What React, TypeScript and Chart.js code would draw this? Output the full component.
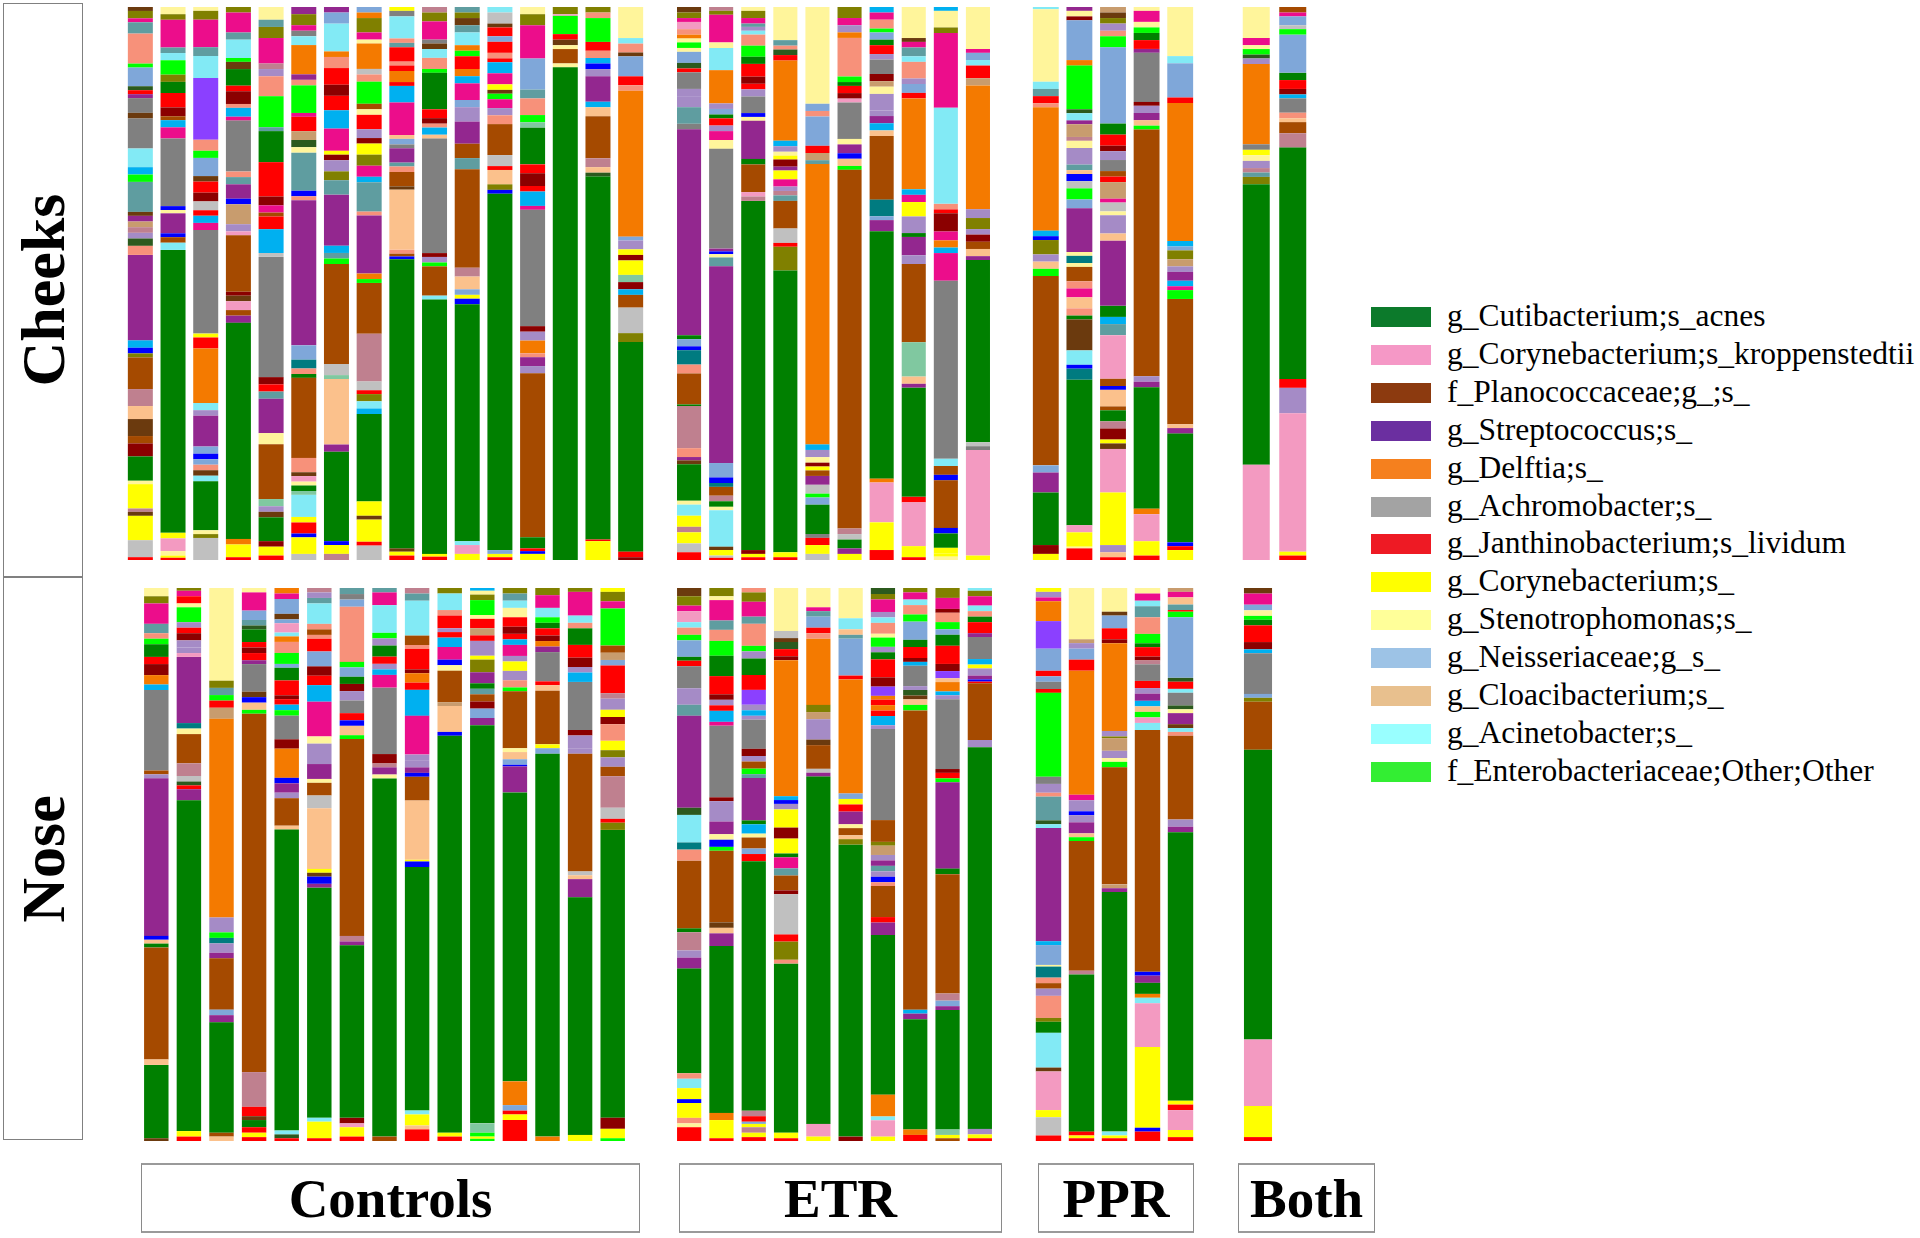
import React, { useEffect, useRef } from "react";
import { Chart, registerables } from "chart.js";

Chart.register(...registerables);

// Segment colour codes (bars)
const COLORS: Record<string, string> = {
  g: "#008000", p: "#F39AC1", b: "#A54A00", s: "#93278F", o: "#F47A00",
  a: "#808080", r: "#FF0000", y: "#FFFF00", l: "#FFF59B", n: "#7FA7D9",
  c: "#FBC18C", k: "#82EAF5", e: "#00FF00", m: "#EC0D8B", d: "#8B0000",
  t: "#5F9DA0", v: "#808000", f: "#F7917A", q: "#007B80", x: "#00B0F0",
  w: "#A58BC6", u: "#BF808F", i: "#C0C0C0", h: "#6B3A0E", z: "#0000FF",
  j: "#C89C6E", M: "#80C8A0", D: "#2C5A1E", V: "#8B40FF",
};

// Each bar: segments from bottom to top, "<code><relative abundance %>"
const cheeksControls: string[][] = [
  ["r0.5","i3","y4.3","h0.7","u0.6","y4.3","l0.6","g4.3","d2.3","b1.3","h3","c2.3","u3","b5.6","v0.7","z1","x1.3","s15.1","f1.6","D1.3","w1","u1","j1","s1","h0.7","t5.3","e1.3","x1.3","k3.3","a5.3","h1","a2.6","s0.7","r0.7","D0.7","n3.3","e0.7","f5.3","t2","m0.7","v1.3","h0.7"],
  ["r0.4","y0.4","l0.8","p2.3","y1","g51","k1.3","b1","z0.7","s3.6","l0.6","z0.7","a12.2","m2","x1.3","b0.7","d1.6","r2.6","g2","v1.3","e2.6","k1.3","t1","m5","v1","l1.3"],
  ["i4","v0.7","l0.7","g8.9","k1","h1","f1","n1","z1","n1.3","s5.6","w1","k1.3","o9.9","r2","y0.7","a18.8","m1.3","x1.3","r1","i1.6","d1.6","r2","h1","n3.3","e1.3","f2","V11.2","k4","t1.6","m5","v1.6","l0.7"],
  ["r0.5","y2.3","o1","g39","s1.3","b1","p1.6","h1","d0.7","b10.2","p0.7","w1.3","j3.6","z1","s2.6","t1.3","f1","a9.2","m0.7","x1.6","f0.7","d2.3","r1","g3","h1.3","e0.7","k3.3","t1.3","m3.6","v1"],
  ["r0.8","y1.6","d1","g4.3","h1","w1","M1.3","b9.9","l2","s6.2","t1.3","r1.3","d1.3","a21.7","i0.7","x4.3","r2.3","b0.7","m1.3","d1.6","r6.2","g5.6","t0.7","e5.6","f3.6","w1.3","u1","m4.6","v2","t1.3","l2.3"],
  ["i1.1","y3","z0.7","r2","y1","k4","M0.7","g1","l0.7","p1","h0.7","f2.6","b14.5","g0.7","f1","q1.6","n2.6","s26.3","f0.7","z1","t6.9","l1","D1.3","j1.6","r2.6","m0.7","e5","f1","s1","o5.3","k1.6","a1","m1","v2","s1.3"],
  ["u1.1","y1.6","z0.7","g16.1","s1.3","c11.8","M0.7","i2","b18","e1","t1","x1.3","s9.2","t2.6","v1.6","w2","d1","y0.7","m4","x3.3","r2.6","d2","r3","f2","o1","k5","n2","s1"],
  ["i2.6","r0.7","y4","h0.7","y2.6","g15.8","x1","k1.3","v1.3","r0.7","i1.6","u8.6","b9.2","e0.7","o1","s10.5","f0.7","t5.3","x1","m2","v2","y2","d1","w1.6","r2.6","l1","b1","e4","f1.3","i1","o4.6","l0.7","m1.3","v2.6","o1","n1"],
  ["r0.8","y0.7","h0.6","g52.4","z0.5","b0.5","f0.7","c10.9","h0.6","b2.6","f1","t0.7","s2.6","a0.7","n1","c0.7","m5.9","x3","r0.7","o2","r1","f0.7","r2.6","t0.8","f0.8","k4","a1","y0.7"],
  ["r0.6","y0.5","g46","k0.7","b5.3","e0.7","w1","d0.7","a20.7","c0.7","x1.3","f0.7","d1","r1.6","g6.6","e0.7","f2","k1.6","h1","a0.7","m3.3","v1.6","u1"],
  ["y1.1","p1.6","k0.7","g42.8","z1","y0.7","n1","c2.3","u1.6","b17.8","t2","b2.6","s4","w2.6","n1.3","m3","x1.3","o1.3","r2.3","e1","o1","k2.3","t1.3","h1.3","v1","t1"],
  ["r0.5","y0.6","n0.7","g64.5","z0.7","v1","c2.6","r0.7","i2","b5.6","f1.6","w1.3","m1.6","e1","h0.7","y1","m2","x2","r0.7","f1","r2","n1","r1.6","h0.7","i2","k1"],
  ["y1.1","z0.5","r0.5","g2","b29.6","w1.3","s1.6","f0.7","o2.3","w1.6","d1","a21","m0.7","x2.6","r1","d2.3","r1.6","g6.6","M1","e1.3","f3","t1.6","n5.6","m6","v2","l1.3"],
  ["g89","l0.7","b2.6","l0.7","h1","r1","e3.3","p0.3","v1.3"],
  ["y3.4","r0.3","g65.5","D0.7","c1","u1.6","b7.6","c1.6","x1","s4.6","w1.3","z1","x1","f1.3","r1.6","e4.3","f1","v1"],
  ["d0.5","r1","g37.8","v1.6","i4.6","b2.3","x1","d1.3","M1.3","y2.6","d1","y1","w1.6","n0.7","o26.3","f1","r1.6","n3.6","h0.7","f1.6","k1","l5.6"],
];

const cheeksETR: string[][] = [
  ["r1.4","i1.6","y2","u1","y2","k2","l0.7","g6.6","h0.7","s0.6","f1.6","u7.6","g0.3","b5.6","f1.6","q2.6","z0.7","n1.3","g0.7","s37.2","a1","t3","w2","w1.3","a3","r0.7","D1","n2","l0.7","e1","l0.7","o0.7","f1","p1.3","m0.7","v1","h1"],
  ["r0.4","i0.4","y1","h0.6","k6.6","l0.6","g1","u1","b1.6","q0.7","z1","n2.6","s35.5","t1.6","l0.6","z0.5","s0.5","a18","l1.6","m1.6","w1","r1.3","g0.7","n1","w1","o6","k4","l1","m5","v0.7","u0.7"],
  ["r0.5","y0.6","d0.7","g63.2","u0.8","p0.8","b5","g1","s6.9","l0.7","z0.7","a3","w1.3","r1","d1.3","r2.3","g1.3","e2","f2","k0.7","w0.7","t0.6","m1","v1.3","l0.7"],
  ["r0.5","y0.9","g51","v4.3","r0.7","i2.6","b5","t1","u0.8","w0.8","m1.3","y1.6","s0.7","d1.3","y0.7","l0.7","w1","x1","o14.5","r1","D1","f0.7","t1","l6"],
  ["i1.1","y1.6","r1.3","a0.7","g5.3","n1.3","e0.7","i1.6","s1.6","b1","y0.7","d0.7","l1","w1.3","x1","o50.7","t0.7","j1.3","r1.3","n5.3","f1","n1.3","l17.5"],
  ["y1.1","s1","g1.6","i1","u1","b65","e0.7","c1.3","z1","s1.6","l1","a6.6","p0.7","d1","r1.3","g0.7","e1","f7","o1","w1.3","m1.3","v2"],
  ["r1.8","y5","p7.2","o0.7","g44.7","s2","n0.7","q3","b11.5","c1","x1.3","s1.3","w1","w3","l1.3","j1","d1.3","a2.6","w1","r1.6","g1","n1.3","e0.7","f1.6","m1.3","x1"],
  ["r0.5","y2","p7.9","r1","g19.7","s0.7","c1.3","M6.2","b14.1","w1.6","s3.3","g0.7","w3","y2.6","m1.3","x1","o16.4","r1","n1.6","w1","f3","k1","t1.6","m1","h0.7","l5.6"],
  ["l0.6","y0.6","y1","g2.6","z1","b8.6","z1","b1.6","k1.3","a32.2","m5","x1","o1.3","m1.6","d3.3","r0.7","f1","k17.4","m13.5","v1","l3","x0.7"],
  ["y0.8","p19.1","a0.7","i0.7","g33","s0.7","c1.3","b1.3","d1.3","w1","v2","w1.6","o22.4","j1.3","r2.3","k1","n1.3","m0.7","l7.6"],
];

const cheeksPPR: string[][] = [
  ["y1.1","d1.6","g9.5","s3.6","n1.3","b34.2","e1.3","c1.3","w1.3","v2.6","z0.7","x1","o22.3","f0.7","r1.3","t1.3","k1.3","l13.1","k0.4"],
  ["r2.1","l0.3","y2.6","p1.3","g26.3","q2","z0.7","k2.6","h5.6","g0.7","f1.3","c2","m1.6","f1.3","b2.6","l0.7","q1.3","l0.7","s7.9","n1.6","e2","i1.3","z1.3","c0.7","t1","w3","l1.3","u0.7","j2.3","s0.7","k1.3","D0.7","e7.9","o1","n7.2","d0.7","l1","s0.7"],
  ["r0.5","c0.9","w1.3","y9.5","p7.9","h1","y0.7","d2","u1.3","g2","b0.7","c3","z0.7","b1.3","p7.9","t2","x1.3","g2","s11.8","c1.3","w3.3","l0.7","i1.6","m0.7","j3","r1","b1","a2","w1.6","d1","r2","g2","n13.8","e2","f1","w1.3","v1","h1","j1"],
  ["r0.8","y2.6","p4.9","o1","g22","s1","w1","b44.7","e0.7","c1","s1.3","w1.3","d0.7","a8.9","s0.7","r1.6","g1.3","e1","l1","m2","l0.7"],
  ["y1.8","r0.7","z0.7","g19.7","s1","c0.7","b22.7","e1.6","m0.7","x1","s1.6","w1","j1.3","v1.6","n0.7","x1","o25","r1","n6.2","k1.3","l8.9"],
];

const cheeksBoth: string[][] = [
  ["p17.2","g50.7","v1.3","t0.8","u0.8","w1.3","l1","y1","a1","o14.5","w1","D0.7","e1","l0.7","m1.3","l5.6"],
  ["r0.8","y0.7","p25","w4.6","r1.6","g41.8","u2.6","b2","c0.7","f1","a2.6","x0.7","d1","r1.6","g1.3","n6.9","e1","i0.7","n1.6","m0.7","b1"],
];

const noseControls: string[][] = [
  ["h0.5","g13.3","c1","b20.3","g0.7","c0.7","z0.7","s28.6","w0.7","b0.7","a14.6","x1","o1.7","d2","r1.3","g2.3","e1","f1","t1.7","m3.7","v1.3","l1.5"],
  ["r0.8","y1","g60","s2","r0.7","D0.7","i1","u2.3","b5.3","l1","q1","s12","p0.7","w1","w1.3","d1.3","r1","w1","e2.7","l0.7","r1.3","m1","v0.5"],
  ["c0.8","b0.7","g20","s1.3","n1","b9.3","s1","w1.7","q1","e1","w1.7","w1","o36","j2","r1.3","e1","t1.3","v1.3","l16.8"],
  ["r0.7","y0.8","r1","g1.3","h0.7","r1.7","u6.3","b65","e0.7","c1.3","z1","h1","a5","s0.7","r1.3","d1","r1","g2.3","D0.7","t1","n1.7","m3.3","l0.8"],
  ["r0.5","D0.7","k0.7","g54.7","c0.7","b5","w1","s1.7","z1","o5.3","d1.7","a4.3","e1","x1","r1","d0.7","r2.7","g2.3","n0.7","e2","f2","o1","k0.7","p1.7","n0.7","h1","n2.7","m1","o1"],
  ["r0.5","y3","k0.7","g41.7","s0.7","z1.3","h0.7","y0.7","c11","i2.3","b2.3","l0.7","s2.7","w3.7","l1.3","m6.3","x3","r1.7","d1.7","n2.7","r2.3","f0.7","b1","f1","k3.7","t1","w1","u0.8"],
  ["r0.8","y1.7","p0.7","d1","g31.3","s0.7","u1","b35.7","e0.7","c1.7","z1","r1.3","a2.3","w1.7","d1.3","g1.3","n1.7","e1","f10","n1.3","a1","t1.1"],
  ["b0.8","g64.7","l0.7","s1.3","u0.7","d1.7","a12","m2.3","x1","w1","r1.3","g2","w1.3","e1","k5","m2.3","t0.8"],
  ["r2.1","c0.7","y2","k0.7","g44","z1","y0.3","c10.7","b4.3","z0.7","s1","w1.3","w1","m7","x4.7","r1.3","o1.7","d0.7","r3.7","f0.7","b1.7","k6.3","t1.3","u1"],
  ["r0.8","y0.7","g72","z0.7","c4.7","j0.7","b5.7","l1","z1","m2.3","x1.7","r1","w0.7","r2.3","f1","k3","v1"],
  ["e0.4","y0.4","e0.7","M1.7","g72.3","s1.3","n1.7","d1.3","b1.3","t1","g1","s2","v2.3","y0.7","w2.7","r1","j1.3","r1.7","l0.7","e2.7","v1","l0.7","x0.5"],
  ["r3.8","y1","r0.7","n1","o4.3","g52.3","s4.7","z0.3","n1","c1.3","l0.7","b10.3","e0.7","f1.3","w1.7","y1.7","w1","m2","x1","r1","d1.3","r1.7","l1.7","k1.3","t1.3","v1"],
  ["o0.8","g69.3","n1","y0.7","b9.7","c1","r0.7","a5.3","s1","o1","d1","r1.3","g1","e1","k1.7","m2.3","v1.3"],
  ["y1.1","g43","s3.3","c0.7","i0.7","b21.3","w1","w2.3","d1","a8.7","x1.7","w1","d1.7","r2.3","g3","f1","k1.3","m4.3","v0.7"],
  ["e0.5","y1.7","d2","g52","v1.3","r0.7","i2","u5.7","b1.7","w1.7","v1.3","y1.7","f3","d1.3","y1.3","w2","u1","r5","n1","j1.3","b1.3","e6.7","m1.3","v1.7","y0.7"],
];

const noseETR: string[][] = [
  ["r2.5","l0.7","f1","y2.7","z0.7","y2","k1.7","f1","g19","s2","w1.3","u3.3","g0.7","b12.3","f2","q1.3","k5","D1.3","s16.7","t2","w3","a4","r1","g0.7","n3","e1","f1.3","k1","p2","m1","v1.7","h1.5"],
  ["r0.5","y3.3","o1.3","g30.3","s2.3","c1","h1","b13","e0.7","z1.3","l1","s2.3","w3","w0.7","d0.7","a13","m0.7","x2","r1","w1","d1","r3.3","g3.7","e2.7","f2","t1.7","m3.7","l0.7","v1.5"],
  ["r0.7","y0.8","u1","y0.6","n0.4","r1","u1","g45.3","r1.3","n1","b2","l0.7","x1.7","g0.7","s7.7","t0.7","e1","b1.3","w1","d1.3","a5.3","w0.7","x1","w1","V2.7","r2.7","g3","w1.3","e1","f4","t1.3","m2.7","v1.7","f0.8"],
  ["r0.5","y1","g30.7","f0.7","v3.3","r1.3","i7.3","d0.7","b2.7","t1.3","m2","g0.7","y2.7","d2","y3.3","w1","z0.7","x0.7","o24.7","d0.7","r1.3","D1.3","h0.7","i1.3","l7.8"],
  ["y0.8","p2.3","g63","s0.7","i0.7","b4.3","h1","w3.7","j1.3","v1.3","o12","f1","r1","n2","t1","m0.7","l3.5"],
  ["d0.8","g53","v1","c0.7","b1.3","l0.7","s2.3","r1.3","y1","n1","o20.7","r0.7","n6.7","t0.7","c1","k2","l5.5"],
  ["y0.8","p3","k0.7","o4","g29.3","s2.3","r1","b5.7","f0.7","z1","w1","t1","s1","w1","j1.7","v0.7","b4","a16.7","w0.7","x1.7","r1","o1","r1","o0.7","V1.7","d1.7","r3.3","g1.3","w1","e1.7","l0.7","f2","k1","w1","m2.3","v1","D1.1"],
  ["r1.1","o1","g20","s1","x0.7","b54.3","e1","c1","h0.7","D1","w0.7","a3.7","x0.7","d0.7","r2","g1.3","n3.3","e1.3","f1.7","k1","m1.3","v0.8"],
  ["b0.5","y0.6","M1","g21.7","s0.7","n1","u1.3","b21.7","g1","s15.7","e0.7","r1","d0.7","a12.7","w0.7","x0.7","o1.7","c0.7","V1.3","d1.3","r3.3","g2","n1","e1.3","f1.7","d0.7","m2","v1.8"],
  ["r0.5","y0.7","w1","g69.3","w1.3","b10.3","r0.3","z0.4","s0.7","w1.3","y0.7","x1","a4","s0.7","r2","g1","f1","k1","m1.7","v1","k0.5"],
];

const nosePPR: string[][] = [
  ["r1","i3.3","y1.3","p7","h0.7","k6.3","g2","v0.7","f4","w1.3","b1","f1","q2","l0.3","n3.6","x0.7","s20.5","k0.7","D0.7","t4.3","f0.7","w1.6","a1.3","e15.2","r0.7","a1.3","n1","r1","n4","V5","o3.6","m0.7","w1","y0.7"],
  ["r0.5","y0.5","r0.7","g28.5","u0.7","b23.5","e0.7","c0.7","s2","w1.3","z0.7","w2","m1","o22.5","r2","n2","w1","j0.7","l9.3"],
  ["r0.5","y0.5","k0.7","g43.4","s0.7","j0.7","b21.2","e1","l0.7","w1.3","j2.3","v0.3","w1","o15.9","d0.7","r2","n2.3","h0.7","l4.3"],
  ["r1.7","z0.7","y14.6","p7.9","k1","o0.7","g2","s1.3","z0.7","b43.7","k1.3","p1","e1","c1","x1","s1.3","w1","r1.3","a3","u0.7","d0.7","r1.7","g0.7","e1.7","f3","t2","k1","m1.3","l1"],
  ["r0.7","y1.3","p3.6","r1","y0.7","g48.7","s1","w1.3","b15.2","f0.7","k0.7","h0.7","s2","l0.7","D0.7","a2.3","k0.7","r1.3","D0.7","n11","e1","r0.3","t1","c1.3","m1","j0.7"],
];

const noseBoth: string[][] = [
  ["r0.7","y5.6","p11.9","g52","b8.6","v0.7","n0.7","a7.3","x0.7","d1.3","r3","g1","e0.7","l1","n1","m2","h1"],
];

const legendLabels = [
  "g_Cutibacterium;s_acnes",
  "g_Corynebacterium;s_kroppenstedtii",
  "f_Planococcaceae;g_;s_",
  "g_Streptococcus;s_",
  "g_Delftia;s_",
  "g_Achromobacter;s_",
  "g_Janthinobacterium;s_lividum",
  "g_Corynebacterium;s_",
  "g_Stenotrophomonas;s_",
  "g_Neisseriaceae;g_s_",
  "g_Cloacibacterium;s_",
  "g_Acinetobacter;s_",
  "f_Enterobacteriaceae;Other;Other",
];
const legendColors = [
  "#0C7A2B", "#F598C6", "#8C3A0F", "#6B2FA0", "#F5801E", "#A3A3A3", "#EE1A24",
  "#FFFF00", "#FFFF99", "#9DC3E6", "#E8C08E", "#99FFFF", "#33EE33",
];

const groupLabels = ["Controls", "ETR", "PPR", "Both"];
const siteLabels = ["Cheeks", "Nose"];

type PanelProps = {
  bars: string[][];
  left: number;
  top: number;
  width: number;
  height: number;
  barPct: number;
};

function parseBar(bar: string[]) {
  const segs = bar.map((s) => ({ c: s[0], v: parseFloat(s.slice(1)) }));
  const tot = segs.reduce((a, b) => a + b.v, 0);
  return segs.map((s) => ({ c: s.c, v: (s.v / tot) * 100 }));
}

function Panel({ bars, left, top, width, height, barPct }: PanelProps) {
  const ref = useRef<HTMLCanvasElement | null>(null);
  useEffect(() => {
    if (!ref.current) return;
    const segs = bars.map(parseBar);
    const maxLen = Math.max(...segs.map((s) => s.length));
    const datasets: any[] = [];
    for (let j = 0; j < maxLen; j++) {
      datasets.push({
        data: segs.map((s) => (s[j] ? s[j].v : 0)),
        backgroundColor: segs.map((s) => (s[j] ? COLORS[s[j].c] || "#999" : "rgba(0,0,0,0)")),
        borderWidth: 0,
        barPercentage: barPct,
        categoryPercentage: 1,
      });
    }
    const chart = new Chart(ref.current, {
      type: "bar",
      data: { labels: bars.map((_, i) => String(i + 1)), datasets },
      options: {
        animation: false,
        responsive: false,
        maintainAspectRatio: false,
        layout: { padding: 0 },
        plugins: { legend: { display: false }, tooltip: { enabled: false } },
        scales: {
          x: { stacked: true, display: false, offset: true },
          y: { stacked: true, display: false, min: 0, max: 100 },
        },
      },
    });
    return () => chart.destroy();
  }, []);
  return (
    <canvas
      ref={ref}
      width={width}
      height={height}
      style={{ position: "absolute", left, top, width, height }}
    />
  );
}

const serif = "'Liberation Serif', 'Times New Roman', serif";

export default function App() {
  const rowTop = [7, 588];
  const h = 553;
  const boxes = [
    { l: 141, w: 499 },
    { l: 679, w: 323 },
    { l: 1038, w: 156 },
    { l: 1238, w: 137 },
  ];
  return (
    <div
      style={{
        position: "absolute",
        left: 0,
        top: 0,
        width: 1920,
        height: 1238,
        background: "#fff",
        overflow: "hidden",
        fontFamily: serif,
      }}
    >
      <Panel bars={cheeksControls} left={124} top={rowTop[0]} width={523} height={h} barPct={0.765} />
      <Panel bars={cheeksETR} left={673} top={rowTop[0]} width={321} height={h} barPct={0.75} />
      <Panel bars={cheeksPPR} left={1029} top={rowTop[0]} width={168} height={h} barPct={0.77} />
      <Panel bars={cheeksBoth} left={1238} top={rowTop[0]} width={73} height={h} barPct={0.74} />
      <Panel bars={noseControls} left={140} top={rowTop[1]} width={489} height={h} barPct={0.75} />
      <Panel bars={noseETR} left={673} top={rowTop[1]} width={323} height={h} barPct={0.75} />
      <Panel bars={nosePPR} left={1032} top={rowTop[1]} width={165} height={h} barPct={0.77} />
      <Panel bars={noseBoth} left={1240} top={rowTop[1]} width={36} height={h} barPct={0.78} />

      {/* site label boxes */}
      {siteLabels.map((lab, i) => {
        const t = i === 0 ? 3 : 577;
        const hh = i === 0 ? 574 : 563;
        return (
          <div
            key={lab}
            style={{
              position: "absolute",
              left: 3,
              top: t,
              width: 80,
              height: hh,
              border: "1px solid #808080",
              boxSizing: "border-box",
            }}
          >
            <div
              style={{
                position: "absolute",
                left: "50%",
                top: "50%",
                transform: "translate(-50%, -50%) rotate(-90deg)",
                fontSize: 62,
                fontWeight: "bold",
                whiteSpace: "nowrap",
                lineHeight: 1,
              }}
            >
              {lab}
            </div>
          </div>
        );
      })}

      {/* group label boxes */}
      {groupLabels.map((lab, i) => (
        <div
          key={lab}
          style={{
            position: "absolute",
            left: boxes[i].l,
            top: 1163,
            width: boxes[i].w,
            height: 70,
            border: "1px solid #8a8a8a",
            borderTop: "2px solid #9a9a9a",
            borderBottom: "2px solid #9a9a9a",
            boxSizing: "border-box",
            display: "flex",
            alignItems: "center",
            justifyContent: "center",
            fontSize: 55,
            fontWeight: "bold",
            lineHeight: 1,
          }}
        >
          {lab}
        </div>
      ))}

      {/* legend */}
      {legendLabels.map((lab, i) => {
        const cy = 317 + i * 37.9;
        return (
          <div key={lab}>
            <div
              style={{
                position: "absolute",
                left: 1371,
                top: cy - 10,
                width: 60,
                height: 20,
                background: legendColors[i],
              }}
            />
            <div
              style={{
                position: "absolute",
                left: 1447,
                top: cy - 19,
                height: 36,
                lineHeight: "36px",
                fontSize: 31.5,
                whiteSpace: "nowrap",
                color: "#000",
              }}
            >
              {lab}
            </div>
          </div>
        );
      })}
    </div>
  );
}
